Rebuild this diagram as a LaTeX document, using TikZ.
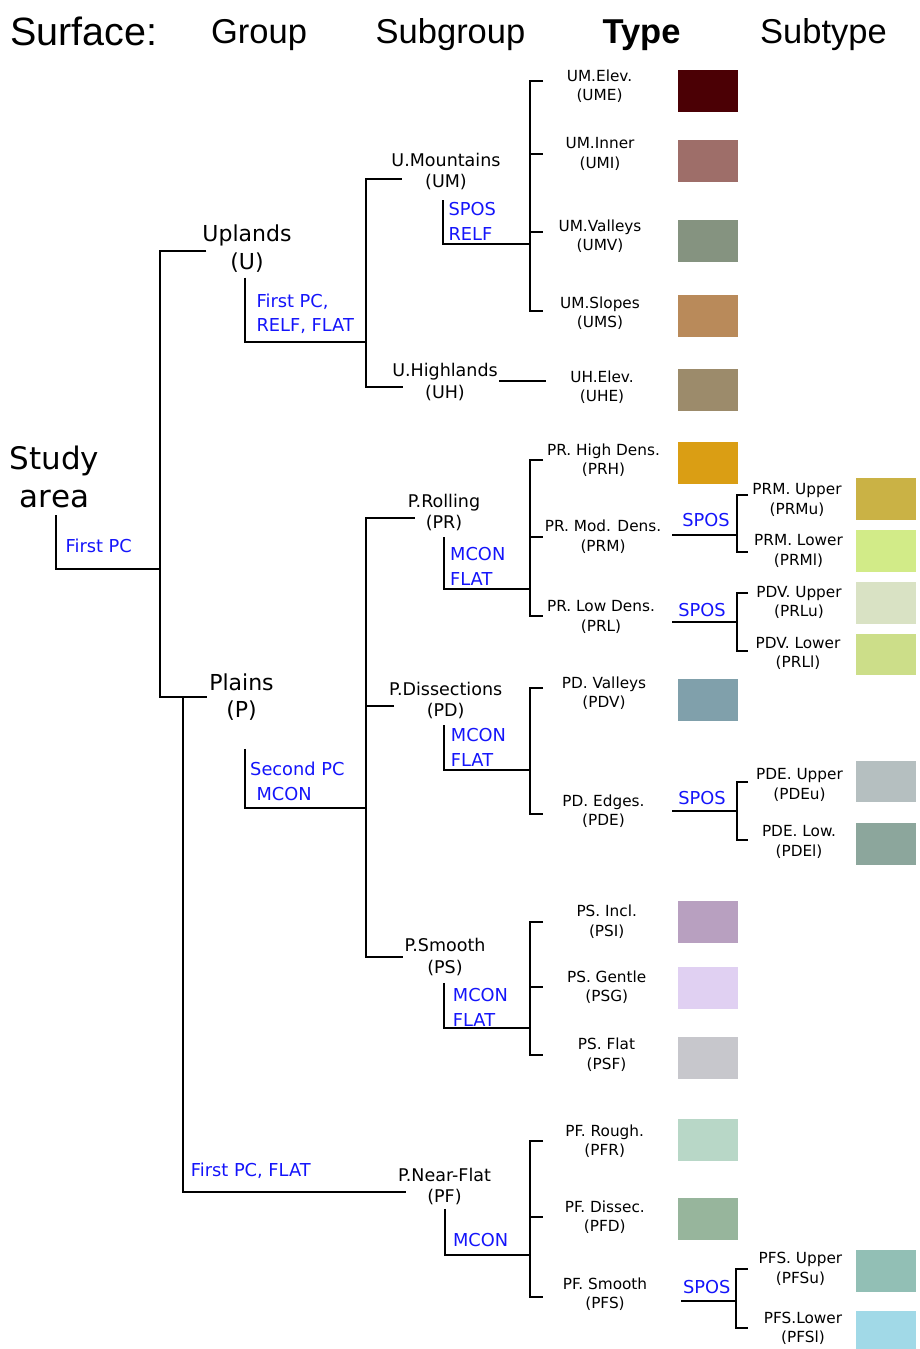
\documentclass[tikz,border=0pt]{standalone}
\usepackage{fontspec}
\setmainfont{DejaVu Sans}
\newfontfamily\headfont{Liberation Sans}
\usetikzlibrary{calc}

\definecolor{critblue}{RGB}{20,20,250}
\definecolor{colUME}{HTML}{4B0005}
\definecolor{colUMI}{HTML}{9E6E69}
\definecolor{colUMV}{HTML}{859380}
\definecolor{colUMS}{HTML}{B98A5A}
\definecolor{colUHE}{HTML}{9C8B6B}
\definecolor{colPRH}{HTML}{DA9E14}
\definecolor{colPRMu}{HTML}{CAB245}
\definecolor{colPRMl}{HTML}{D2EB88}
\definecolor{colPRLu}{HTML}{D9E2C4}
\definecolor{colPRLl}{HTML}{CCDE89}
\definecolor{colPDV}{HTML}{80A0AB}
\definecolor{colPDEu}{HTML}{B5BFC0}
\definecolor{colPDEl}{HTML}{8CA69C}
\definecolor{colPSI}{HTML}{B8A0C0}
\definecolor{colPSG}{HTML}{E0D0F2}
\definecolor{colPSF}{HTML}{C7C7CC}
\definecolor{colPFR}{HTML}{B8D7C7}
\definecolor{colPFD}{HTML}{97B59C}
\definecolor{colPFSu}{HTML}{92BFB5}
\definecolor{colPFSl}{HTML}{A1D9E7}

\tikzset{
  link/.style={line width=2pt},
  headlbl/.style={font=\headfont\fontsize{34.5}{40}\selectfont, inner sep=0pt, anchor=base},
  grplbl/.style={font=\fontsize{22}{27.5}\selectfont, align=center, inner sep=0pt},
  sublbl/.style={font=\fontsize{17.5}{21.5}\selectfont, align=center, inner sep=0pt},
  typlbl/.style={font=\fontsize{15.3}{19.3}\selectfont, align=center, inner sep=0pt},
  critlbl/.style={font=\fontsize{17.8}{24.8}\selectfont, text=critblue, align=left, inner sep=0pt, anchor=west},
  swatch/.style={fill=#1, minimum width=60pt, minimum height=41.7pt, inner sep=0pt},
}

\begin{document}
\begin{tikzpicture}[x=1pt,y=-1pt]
\useasboundingbox (0,0) rectangle (919,1349);

% column heads
\node[headlbl,anchor=base west,font=\headfont\fontsize{39.5}{44}\selectfont] (hSurf) at (10,45) {Surface:};
\node[headlbl] (hGroup) at (259,43) {Group};
\node[headlbl] (hSubgroup) at (450.5,43) {Subgroup};
\node[headlbl,font=\headfont\bfseries\fontsize{34.5}{40}\selectfont] (hType) at (641.5,43) {Type};
\node[headlbl] (hSubtype) at (823.5,43) {Subtype};

% root and groups
\node[font=\fontsize{31}{38}\selectfont,align=center,inner sep=0pt] (SA) at (54.5,476.5) {Study\\area};
\node[grplbl] (U) at (247,248.8) {Uplands\\(U)};
\node[grplbl] (P) at (241.5,697.2) {Plains\\(P)};

% subgroups
\node[sublbl] (UM) at (446,171.3) {U.Mountains\\(UM)};
\node[sublbl] (UH) at (445,381.8) {U.Highlands\\(UH)};
\node[sublbl] (PR) at (444,512.7) {P.Rolling\\(PR)};
\node[sublbl] (PD) at (445.7,700.3) {P.Dissections\\(PD)};
\node[sublbl] (PS) at (445,957.2) {P.Smooth\\(PS)};
\node[sublbl] (PF) at (444.5,1186.7) {P.Near-Flat\\(PF)};

% types
\node[typlbl] (UME) at (599.5,86.5) {UM.Elev.\\(UME)};
\node[typlbl] (UMI) at (600,154) {UM.Inner\\(UMI)};
\node[typlbl] (UMV) at (600,236.5) {UM.Valleys\\(UMV)};
\node[typlbl] (UMS) at (600,313) {UM.Slopes\\(UMS)};
\node[typlbl] (UHE) at (602,387) {UH.Elev.\\(UHE)};
\node[typlbl] (PRH) at (603.5,460.5) {PR. High Dens.\\(PRH)};
\node[typlbl] (PRM) at (603,536.7) {PR. Mod. Dens.\\(PRM)};
\node[typlbl] (PRL) at (601,617) {PR. Low Dens.\\(PRL)};
\node[typlbl] (PDV) at (604,693.3) {PD. Valleys\\(PDV)};
\node[typlbl] (PDE) at (603.5,811.3) {PD. Edges.\\(PDE)};
\node[typlbl] (PSI) at (606.7,921.7) {PS. Incl.\\(PSI)};
\node[typlbl] (PSG) at (606.7,987.5) {PS. Gentle\\(PSG)};
\node[typlbl] (PSF) at (606.5,1054.7) {PS. Flat\\(PSF)};
\node[typlbl] (PFR) at (604.7,1141) {PF. Rough.\\(PFR)};
\node[typlbl] (PFD) at (604.8,1217.3) {PF. Dissec.\\(PFD)};
\node[typlbl] (PFS) at (605,1294) {PF. Smooth\\(PFS)};

% subtypes
\node[typlbl] (PRMu) at (797,500) {PRM. Upper\\(PRMu)};
\node[typlbl] (PRMl) at (798.5,551) {PRM. Lower\\(PRMl)};
\node[typlbl] (PRLu) at (799,602.7) {PDV. Upper\\(PRLu)};
\node[typlbl] (PRLl) at (798,653.7) {PDV. Lower\\(PRLl)};
\node[typlbl] (PDEu) at (799.5,785) {PDE. Upper\\(PDEu)};
\node[typlbl] (PDEl) at (799,842) {PDE. Low.\\(PDEl)};
\node[typlbl] (PFSu) at (800.5,1268.7) {PFS. Upper\\(PFSu)};
\node[typlbl] (PFSl) at (803,1328) {PFS.Lower\\(PFSl)};

% colour swatches
\foreach \n/\y in {UME/90.8,UMI/161.3,UMV/240.8,UMS/316.3,UHE/389.8,PRH/463.2,PDV/699.8,
                   PSI/921.8,PSG/988,PSF/1057.7,PFR/1140.3,PFD/1219.2}
  \node[swatch=col\n] (s\n) at (707.7,\y) {};
\foreach \n/\y in {PRMu/499.2,PRMl/550.8,PRLu/603.3,PRLl/654.5,PDEu/781.5,PDEl/844.2,
                   PFSu/1270.8,PFSl/1331.8}
  \node[swatch=col\n] (s\n) at (886.3,\y) {};

% splitting criteria
\node[critlbl] (cSA) at (65.4,546.3) {First PC};
\node[critlbl] (cU) at (256.4,313.7) {First PC,\\RELF, FLAT};
\node[critlbl] (cP) at (250,781.7) {Second PC\\\hspace*{6.4pt}MCON};
\node[critlbl] (cPF0) at (190.7,1170.7) {First PC, FLAT};
\node[critlbl] (cUM) at (448.3,221) {SPOS\\RELF};
\node[critlbl] (cPR) at (450,566.2) {MCON\\FLAT};
\node[critlbl] (cPD) at (450.7,747.2) {MCON\\FLAT};
\node[critlbl] (cPS) at (452.7,1007.5) {MCON\\FLAT};
\node[critlbl] (cPF) at (452.9,1240) {MCON};
\node[critlbl,anchor=center] (sPRM) at (706,520) {SPOS};
\node[critlbl,anchor=center] (sPRL) at (702,609.7) {SPOS};
\node[critlbl,anchor=center] (sPDE) at (702,797.7) {SPOS};
\node[critlbl,anchor=center] (sPFS) at (706.7,1287) {SPOS};

% root to groups
\coordinate (k0) at (160,569.3);
\draw[link] ($(SA.south)+(1.5,7.7)$) |- (k0);
\draw[link] ($(U.west)+(4,2.2)$) -| (k0) |- ($(P.west)+(-2.4,0)$);
\coordinate (kP2) at ($(P.west)+(-26.6,0)$);
\draw[link] (kP2) |- ($(PF.west)+(7.8,5.6)$);

% uplands
\coordinate (kU) at (366,342.3);
\draw[link] ($(U.south)+(-2.4,5)$) |- (kU);
\draw[link] ($(UM.west)+(10.3,7.7)$) -| (kU) |- ($(UH.west)+(11.4,5.5)$);
\coordinate (kUM) at (530,244);
\draw[link] ($(UM.south)+(-2.7,10)$) |- (kUM);
\draw[link] ($(kUM |- UME)+(13,-5.5)$) -| (kUM) |- ($(kUM |- UMS)+(13,-2)$);
\draw[link] (kUM |- UMI) -- ++(13,0);
\draw[link] ($(kUM |- UMV)+(0,-4.5)$) -- ++(13,0);
\draw[link] ($(UH.east)+(1.5,-1)$) -- ($(kUM |- UH.east)+(15.7,-1)$);

% plains
\coordinate (kP) at (366,807.7);
\draw[link] ($(P.south)+(3.6,28)$) |- (kP);
\draw[link] ($(PR.west)+(7,5.6)$) -| (kP) |- ($(PS.west)+(-1,-0.5)$);
\draw[link] ($(PD.west)+(5,5.7)$) -| (kP);

% rolling
\coordinate (kPR) at (530,589.3);
\draw[link] ($(PR.south)+(-0.4,5.8)$) |- (kPR);
\draw[link] ($(kPR |- PRH)+(13,-1)$) -| (kPR) |- ($(kPR |- PRL)+(13,-1)$);
\draw[link] (kPR |- PRM) -- ++(13,0);
\coordinate (kPRM) at (737,535);
\draw[link] (kPRM) -- ++(-65,0);
\draw[link] ($(kPRM |- PRMu)+(11,-5)$) -| (kPRM) |- ($(kPRM |- PRMl)+(11,1)$);
\coordinate (kPRL) at (737,622);
\draw[link] (kPRL) -- ++(-65,0);
\draw[link] ($(kPRL |- PRLu)+(11,-9.5)$) -| (kPRL) |- ($(kPRL |- PRLl)+(11,-3)$);

% dissections
\coordinate (kPD) at (530,770);
\draw[link] ($(PD.south)+(-1.7,6)$) |- (kPD);
\draw[link] ($(kPD |- PDV)+(13,-5)$) -| (kPD) |- ($(kPD |- PDE)+(13,2.5)$);
\coordinate (kPDE) at (737,811);
\draw[link] (kPDE) -- ++(-65,0);
\draw[link] ($(kPDE |- PDEu)+(11,-3)$) -| (kPDE) |- ($(kPDE |- PDEl)+(11,-2)$);

% smooth
\coordinate (kPS) at (530,1028);
\draw[link] ($(PS.south)+(-1.5,7)$) |- (kPS);
\draw[link] ($(kPS |- PSI)+(13,0)$) -| (kPS) |- ($(kPS |- PSF)+(13,0)$);
\draw[link] ($(kPS |- PSG)+(0,-1)$) -- ++(13,0);

% near-flat
\coordinate (kPF) at (530,1254.5);
\draw[link] ($(PF.south)+(0,3.5)$) |- (kPF);
\draw[link] ($(kPF |- PFR)+(13,0)$) -| (kPF) |- ($(kPF |- PFS)+(13,3)$);
\draw[link] (kPF |- PFD) -- ++(13,0);
\coordinate (kPFS) at (735.5,1300.7);
\draw[link] (kPFS) -- ++(-54.5,0);
\draw[link] ($(kPFS |- PFSu)+(12,0)$) -| (kPFS) |- ($(kPFS |- PFSl)+(12,0)$);
\end{tikzpicture}
\end{document}
